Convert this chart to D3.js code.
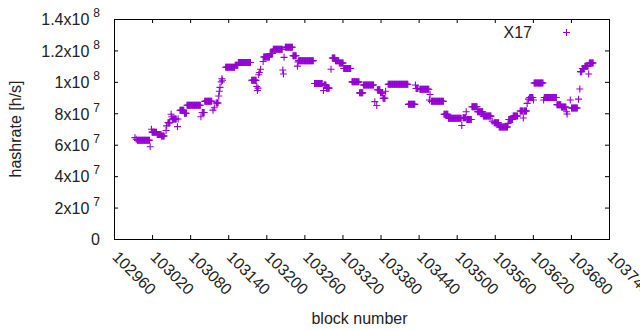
<!DOCTYPE html>
<html>
<head>
<meta charset="utf-8">
<script src="https://cdn.jsdelivr.net/npm/d3@7"></script>
<style>
  body { margin: 0; background: #fff; }
  svg { display: block; font-family: "Liberation Sans", Arial, sans-serif; }
</style>
</head>
<body>
<svg id="chart" width="640" height="330"></svg>
<script>
// runs of consecutive blocks that share one hashrate value
var runStart = [102993,102995,102997,103017,103019,103020,103028,103035,103042,103043,103045,103050,103051,103052,103060,103061,103064,103071,103075,103097,103099,103103,103116,103118,103121,103125,103126,103127,103129,103130,103131,103136,103151,103156,103177,103185,103186,103187,103188,103189,103191,103195,103196,103206,103211,103226,103227,103228,103230,103242,103249,103250,103251,103276,103290,103291,103295,103302,103304,103309,103315,103322,103335,103347,103353,103371,103374,103375,103380,103384,103388,103392,103424,103435,103436,103442,103457,103458,103460,103480,103487,103508,103510,103515,103516,103524,103533,103542,103556,103559,103567,103581,103582,103589,103600,103605,103606,103611,103613,103615,103621,103622,103637,103638,103658,103665,103673,103674,103679,103681,103692,103694,103695,103698,103702,103708,103709]
var runEnd   = [102993,102995,103016,103017,103019,103027,103034,103039,103042,103043,103048,103050,103051,103058,103060,103061,103070,103074,103096,103097,103102,103114,103116,103118,103124,103125,103126,103127,103129,103130,103131,103150,103155,103175,103184,103185,103186,103187,103188,103189,103191,103195,103205,103210,103225,103226,103227,103228,103241,103247,103249,103250,103274,103288,103290,103294,103299,103302,103308,103314,103321,103333,103346,103352,103369,103371,103374,103379,103383,103387,103388,103423,103434,103435,103439,103456,103457,103458,103479,103486,103507,103508,103514,103515,103523,103532,103541,103554,103556,103566,103580,103581,103588,103596,103604,103605,103610,103611,103613,103620,103621,103636,103637,103657,103664,103672,103673,103674,103679,103690,103692,103694,103697,103701,103707,103708,103715]
// hashrate in units of 10^7 h/s
var runValue = [6.45,6.35,6.28,5.87,6.98,6.8,6.65,6.55,6.9,7.2,7.4,7.94,7.78,7.64,7.15,7.64,8.19,8.0,8.51,7.78,8.05,8.76,8.2,8.35,8.65,9.1,9.4,9.65,10.0,10.2,10.1,10.93,11.05,11.23,10.1,9.7,9.45,9.6,10.45,10.6,10.8,11.3,11.58,11.8,12.07,10.75,10.5,11.56,12.2,11.66,11.0,11.26,11.35,9.9,9.45,9.8,9.6,10.8,11.52,11.35,11.2,10.85,10.0,9.3,9.8,8.74,8.5,9.5,9.3,8.96,9.4,9.85,8.57,9.8,9.58,9.53,8.85,9.2,8.76,7.94,7.68,7.22,7.72,8.1,7.6,8.42,8.1,7.82,7.5,7.4,7.13,7.36,7.6,7.83,8.15,7.7,8.15,8.63,8.9,9.0,8.85,9.93,8.85,9.0,8.55,8.4,8.1,7.95,8.85,8.34,8.9,9.55,10.65,10.85,11.0,10.5,11.2]

var xTicks = [102960,103020,103080,103140,103200,103260,103320,103380,103440,103500,103560,103620,103680,103740]
var yTicks = [0,2e7,4e7,6e7,8e7,1e8,1.2e8,1.4e8]
var yTickMant = ["0","2","4","6","8","1","1.2","1.4"]
var yTickExp = ["","7","7","7","7","8","8","8"]
var seriesName = "X17"

var dimensions = {
    width: 640,
    height: 330,
    margin: { top: 19, bottom: 91, left: 114, right: 31 }
}

var svg = d3.select("#chart")
var color = "#9400d3"
var fontSize = 16

var xScale = d3.scaleLinear()
    .domain([102960, 103740])
    .range([dimensions.margin.left, dimensions.width - dimensions.margin.right])

var yScale = d3.scaleLinear()
    .domain([0, 1.4e8])
    .range([dimensions.height - dimensions.margin.bottom, dimensions.margin.top])

var x0 = xScale.range()[0], x1 = xScale.range()[1]
var y0 = yScale.range()[0], y1 = yScale.range()[1]

// expand the runs into one point per block
var data = []
runStart.forEach(function(s, i){
    for(var b = s; b <= runEnd[i]; b++){
        data.push({block: b, value: runValue[i] * 1e7})
    }
})

// axes with inward ticks on every side (gnuplot style)
var bottomAxis = svg.append("g")
    .attr("transform", `translate(0,${y0})`)
    .call(d3.axisBottom(xScale).tickValues(xTicks).tickSize(-4).tickSizeOuter(0).tickFormat(d3.format("d")))
bottomAxis.select(".domain").remove()
bottomAxis.selectAll("text")
    .attr("x", null).attr("y", null).attr("dy", null)
    .attr("transform", "translate(-3,19) rotate(45)")
    .attr("text-anchor", "start")
    .attr("font-size", fontSize)
    .attr("font-family", null)
    .attr("fill", "#222")

var topAxis = svg.append("g")
    .attr("transform", `translate(0,${y1})`)
    .call(d3.axisTop(xScale).tickValues(xTicks).tickSize(-4).tickSizeOuter(0).tickFormat(""))
topAxis.select(".domain").remove()

var leftAxis = svg.append("g")
    .attr("transform", `translate(${x0},0)`)
    .call(d3.axisLeft(yScale).tickValues(yTicks).tickSize(-4).tickSizeOuter(0))
leftAxis.select(".domain").remove()
leftAxis.selectAll("text").each(function(d, i){
    var t = d3.select(this)
        .text(null)
        .attr("x", -14)
        .attr("dy", "0.36em")
        .attr("text-anchor", "end")
        .attr("font-size", fontSize)
        .attr("font-family", null)
        .attr("fill", "#222")
    t.append("tspan").text(yTickMant[i] + (yTickExp[i] ? "x10" : ""))
    if(yTickExp[i]){
        t.append("tspan").attr("dx", 4).attr("dy", -8).attr("font-size", 12).text(yTickExp[i])
    }
})

var rightAxis = svg.append("g")
    .attr("transform", `translate(${x1},0)`)
    .call(d3.axisRight(yScale).tickValues(yTicks).tickSize(-4).tickSizeOuter(0).tickFormat(""))
rightAxis.select(".domain").remove()

svg.selectAll(".tick line").attr("stroke", "#000")

svg.append("rect")
    .attr("x", x0 + 0.5).attr("y", y1 + 0.5)
    .attr("width", x1 - x0).attr("height", y0 - y1)
    .attr("fill", "none")
    .attr("stroke", "#000")
    .attr("stroke-width", 1)

// crosses
var cross = "M-3.5,0H3.5M0,-3.5V3.5"
svg.append("g")
    .selectAll("path")
    .data(data)
    .enter()
    .append("path")
    .attr("d", cross)
    .attr("transform", d => `translate(${xScale(d.block)},${yScale(d.value)})`)
    .attr("fill", "none")
    .attr("stroke", color)
    .attr("stroke-width", 1.1)

// legend
svg.append("text")
    .attr("x", 532).attr("y", 38)
    .attr("text-anchor", "end")
    .attr("font-size", fontSize)
    .attr("fill", "#222")
    .text(seriesName)
svg.append("path")
    .attr("d", cross)
    .attr("transform", "translate(566.5,32.5)")
    .attr("fill", "none")
    .attr("stroke", color)
    .attr("stroke-width", 1.1)

// axis titles
svg.append("text")
    .attr("x", 359.5).attr("y", 324)
    .attr("text-anchor", "middle")
    .attr("font-size", fontSize)
    .attr("fill", "#222")
    .text("block number")

svg.append("text")
    .attr("transform", "translate(21,129) rotate(-90)")
    .attr("text-anchor", "middle")
    .attr("font-size", fontSize)
    .attr("fill", "#222")
    .text("hashrate [h/s]")
</script>
</body>
</html>
